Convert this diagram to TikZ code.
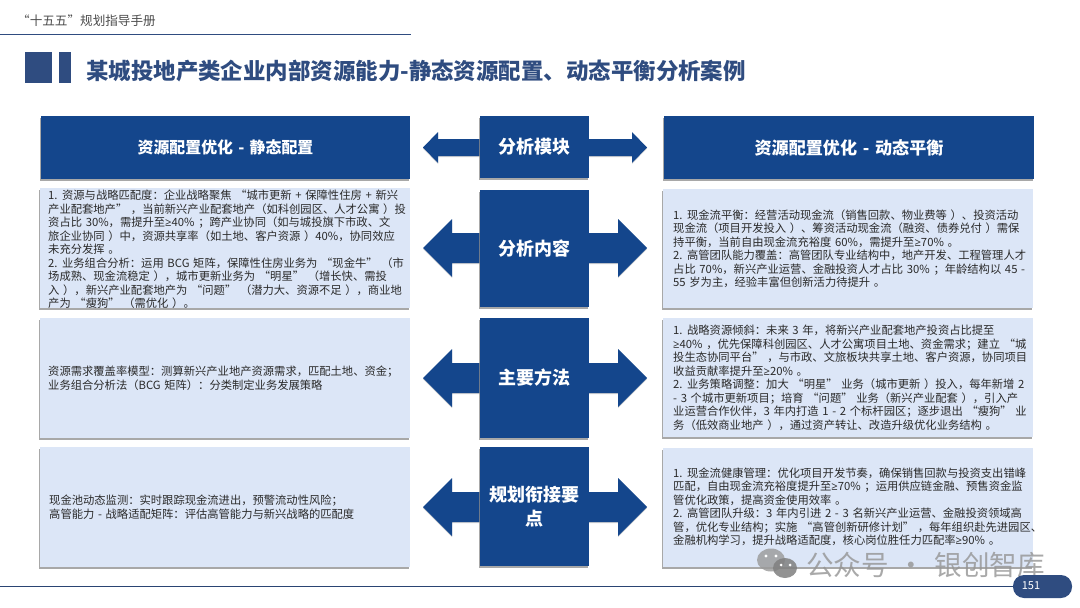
\documentclass[tikz,border=0pt]{standalone}
\usepackage{fontspec}
\setmainfont[WordSpace=1.45]{Noto Sans CJK SC}
\newfontfamily\narrowsym{Open Sans}
\usetikzlibrary{shadows,calc}
\definecolor{navy}{HTML}{14468C}
\definecolor{slate}{HTML}{2F4C80}
\definecolor{pale}{HTML}{DCE6F7}
\definecolor{ink}{HTML}{2A2A2A}
\newcommand{\bodyfont}{\fontsize{11.3}{13.5}\selectfont}
\newcommand{\gtq}{{\narrowsym ≥}}
\newcommand{\twinarrow}[4]{% centre y, half shaft, half head, head length
  \path[arrowfill] (423,#1) -- ++(#4,-#3) -- ++(0,#3-#2) -- (632+15-#4,#1-#2) -- ++(0,#2-#3) -- (647,#1)
    -- ++(-#4,#3) -- ++(0,#2-#3) -- (423+#4,#1+#2) -- ++(0,#3-#2) -- cycle;}
\tikzset{
  x=1pt,y=-1pt,
  softshade/.style={general shadow={fill=black!45,shadow xshift=-1.5pt,shadow yshift=-1.5pt,opacity=.75}},
  arrowfill/.style={fill=navy,general shadow={fill=black!35,shadow xshift=0pt,shadow yshift=-1pt,opacity=.5}},
  rectbox/.style={anchor=north west,inner sep=0pt,outer sep=0pt},
  headbox/.style={rectbox,fill=navy,softshade,text=white,font=\bfseries\fontsize{15.9}{18}\selectfont,align=center},
  midbox/.style={rectbox,fill=navy,softshade,text=white,minimum width=109pt,font=\bfseries\fontsize{18}{24}\selectfont,align=center},
  panel/.style={rectbox,fill=pale,softshade,minimum width=370pt},
  bodytext/.style={anchor=west,inner sep=0pt,align=left,text=ink,font=\bodyfont},
  rule/.style={draw=#1,line width=1pt}
}
\begin{document}
\begin{tikzpicture}
\useasboundingbox (0,0) rectangle (1080,608);
\fill[white] (0,0) rectangle (1080,608);

% top strip
\node[anchor=west,inner sep=0pt,text=black!70,font=\fontsize{12.6}{15}\selectfont] (hdr) at (17,21) {“十五五”规划指导手册};
\coordinate (topa) at (0,34); \coordinate (topb) at (411,34);
\draw[rule=slate] (topa) -- (topb);
\fill[slate] (25,52) rectangle (52,83);
\fill[slate] (59,52) rectangle (71,83);
\node[anchor=west,inner sep=0pt,text=slate,font=\bfseries\fontsize{22.45}{26}\selectfont] (title) at (86,71) {某城投地产类企业内部资源能力-静态资源配置、动态平衡分析案例};

% arrows behind the centre column
\twinarrow{147.5}{8.5}{15.5}{15}
\twinarrow{248}{15}{29}{29}
\twinarrow{378}{15}{29}{29}
\twinarrow{507}{15}{29}{29}

% headers
\node[headbox,minimum width=369pt,minimum height=63pt] (hl) at (41,116) {资源配置优化 - 静态配置};
\node[headbox,minimum width=370pt,minimum height=63pt,font=\bfseries\fontsize{17.1}{18}\selectfont] (hr) at (664,116) {\raisebox{-1pt}{资源配置优化 - 动态平衡}};

% centre column
\node[midbox,minimum height=62pt] (m1) at (480,116) {\raisebox{-1pt}{分析模块}};
\node[midbox,minimum height=117pt] (m2) at (480,190) {\raisebox{-1pt}{分析内容}};
\node[midbox,minimum height=120pt] (m3) at (480,318) {主要方法};
\node[midbox,minimum height=119pt] (m4) at (480,447) {规划衔接要\\点};

% panels
\node[panel,minimum height=120pt] (l1) at (40,188) {};
\node[panel,minimum height=120pt] (l2) at (40,318) {};
\node[panel,minimum height=120pt] (l3) at (40,447) {};
\node[panel,minimum height=119pt] (r1) at (663,189) {};
\node[panel,minimum height=119pt] (r2) at (663,318) {};
\node[panel,minimum height=119pt] (r3) at (663,448) {};

\node[bodytext] (tl1) at (48,249.5) {1. 资源与战略匹配度：企业战略聚焦 “城市更新 + 保障性住房 + 新兴\\
产业配套地产” ，当前新兴产业配套地产（如科创园区、人才公寓 ）投\\
资占比 30\%，需提升至\gtq 40\% ；跨产业协同（如与城投旗下市政、文\\
旅企业协同 ）中，资源共享率（如土地、客户资源 ）40\%，协同效应\\
未充分发挥 。\\
2. 业务组合分析：运用 BCG 矩阵，保障性住房业务为 “现金牛” （市\\
场成熟、现金流稳定 ），城市更新业务为 “明星” （增长快、需投\\
入 ），新兴产业配套地产为 “问题” （潜力大、资源不足 ），商业地\\
产为 “瘦狗” （需优化 ）。};

\node[bodytext] (tl2) at (48,378) {资源需求覆盖率模型：测算新兴产业地产资源需求，匹配土地、资金；\\
业务组合分析法（BCG 矩阵）：分类制定业务发展策略};

\node[bodytext] (tl3) at (49,507) {现金池动态监测：实时跟踪现金流进出，预警流动性风险；\\
高管能力 - 战略适配矩阵：评估高管能力与新兴战略的匹配度};

\node[bodytext] (tr1) at (673,249) {1. 现金流平衡：经营活动现金流（销售回款、物业费等 ）、投资活动\\
现金流（项目开发投入 ）、筹资活动现金流（融资、债券兑付 ）需保\\
持平衡，当前自由现金流充裕度 60\%，需提升至\gtq 70\% 。\\
2. 高管团队能力覆盖：高管团队专业结构中，地产开发、工程管理人才\\
占比 70\%，新兴产业运营、金融投资人才占比 30\% ；年龄结构以 45 -\\
55 岁为主，经验丰富但创新活力待提升 。};

\node[bodytext] (tr2) at (673,378) {1. 战略资源倾斜：未来 3 年，将新兴产业配套地产投资占比提至\\
\gtq 40\% ，优先保障科创园区、人才公寓项目土地、资金需求；建立 “城\\
投生态协同平台” ，与市政、文旅板块共享土地、客户资源，协同项目\\
收益贡献率提升至\gtq 20\% 。\\
2. 业务策略调整：加大 “明星” 业务（城市更新 ）投入，每年新增 2\\
- 3 个城市更新项目；培育 “问题” 业务（新兴产业配套 ），引入产\\
业运营合作伙伴，3 年内打造 1 - 2 个标杆园区；逐步退出 “瘦狗” 业\\
务（低效商业地产 ），通过资产转让、改造升级优化业务结构 。};

\node[bodytext] (tr3) at (673,507) {1. 现金流健康管理：优化项目开发节奏，确保销售回款与投资支出错峰\\
匹配，自由现金流充裕度提升至\gtq 70\% ；运用供应链金融、预售资金监\\
管优化政策，提高资金使用效率 。\\
2. 高管团队升级：3 年内引进 2 - 3 名新兴产业运营、金融投资领域高\\
管，优化专业结构；实施 “高管创新研修计划” ，每年组织赴先进园区、\\
金融机构学习，提升战略适配度，核心岗位胜任力匹配率\gtq 90\% 。};

% footer
\coordinate (bota) at (0,586.5); \coordinate (botb) at (1020,586.5);
\draw[draw=slate!90!black,line width=.8pt] (bota) -- (botb);
\fill[black!40,opacity=.8] (771,560) ellipse [x radius=14,y radius=11.5];
\fill[black!50,opacity=.85] (785,568) ellipse [x radius=12,y radius=10];
\fill[white] (766,556) circle [radius=1.7] (776,556) circle [radius=1.7] (781,565) circle [radius=1.5] (790,565) circle [radius=1.5];
\node[anchor=west,inner sep=0pt,text=black!42,opacity=.8,font=\fontsize{27.6}{32}\selectfont] (mark) at (806,565) {公众号 · 银创智库};
\node[fill=slate,rounded corners=11pt,minimum width=59pt,minimum height=23pt,inner sep=0pt] (pg) at (1042.5,586.5) {};
\node[inner sep=0pt,text=white,font=\fontsize{11}{13}\selectfont] (pgn) at (1031,586) {151};
\end{tikzpicture}
\end{document}
